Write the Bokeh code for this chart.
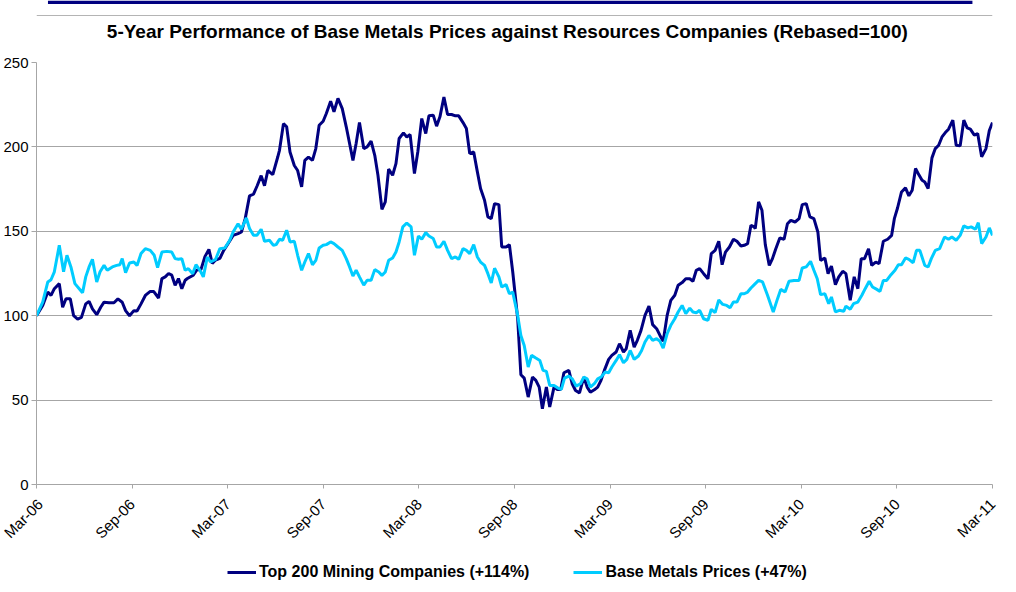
import math
from bokeh.plotting import figure
from bokeh.layouts import column
from bokeh.models import FixedTicker, Legend, LegendItem, Range1d, Label, BoxAnnotation, Span
from bokeh.embed import file_html
from bokeh.resources import INLINE

# Months since Mar-06 and rebased index values
mining_month = [0.0, 0.39, 0.71, 0.91, 1.12, 1.43, 1.64, 1.85, 2.12, 2.33, 2.58, 2.82, 3.09, 3.30, 3.51, 3.78,
                4.03, 4.24, 4.55, 4.86, 5.11, 5.38, 5.59, 5.84, 6.11, 6.31, 6.56, 6.83, 7.14, 7.35, 7.66, 7.87,
                8.08, 8.29, 8.49, 8.70, 8.91, 9.12, 9.33, 9.47, 9.84, 10.05, 10.32, 10.57, 10.82, 11.03, 11.24,
                11.51, 11.75, 12.02, 12.34, 12.65, 12.86, 13.10, 13.37, 13.62, 13.85, 14.10, 14.31, 14.52, 14.83,
                15.14, 15.25, 15.50, 15.70, 15.91, 16.18, 16.39, 16.64, 16.84, 17.07, 17.32, 17.53, 17.74, 17.99,
                18.19, 18.46, 18.67, 18.92, 19.19, 19.44, 19.65, 19.86, 20.06, 20.27, 20.54, 20.75, 21.00, 21.23,
                21.43, 21.68, 21.89, 22.10, 22.35, 22.56, 22.76, 23.03, 23.24, 23.45, 23.72, 23.93, 24.18, 24.43,
                24.63, 24.90, 25.11, 25.32, 25.57, 25.80, 26.05, 26.29, 26.50, 26.77, 26.98, 27.19, 27.44, 27.67,
                27.87, 28.12, 28.33, 28.54, 28.75, 29.02, 29.20, 29.47, 29.68, 29.89, 30.20, 30.40, 30.61, 30.86,
                31.13, 31.34, 31.55, 31.75, 32.00, 32.21, 32.48, 32.69, 32.90, 33.10, 33.41, 33.62, 33.83, 34.08,
                34.35, 34.56, 34.76, 35.01, 35.22, 35.43, 35.64, 35.91, 36.11, 36.38, 36.59, 36.84, 37.01, 37.26,
                37.51, 37.71, 37.94, 38.19, 38.44, 38.67, 38.92, 39.13, 39.33, 39.58, 39.81, 40.06, 40.27, 40.52,
                40.75, 41.00, 41.20, 41.41, 41.62, 41.87, 42.14, 42.35, 42.59, 42.82, 43.03, 43.24, 43.49, 43.74,
                43.96, 44.21, 44.42, 44.63, 44.84, 45.04, 45.11, 45.32, 45.53, 45.74, 45.99, 46.19, 46.40, 46.65,
                46.92, 47.13, 47.34, 47.61, 47.86, 48.06, 48.31, 48.54, 48.79, 49.04, 49.21, 49.48, 49.68, 49.89,
                50.14, 50.35, 50.60, 50.80, 51.07, 51.32, 51.55, 51.76, 51.97, 52.22, 52.42, 52.67, 52.88, 53.15,
                53.42, 53.67, 53.84, 54.04, 54.29, 54.54, 54.75, 54.96, 55.17, 55.37, 55.58, 55.75, 55.96, 56.20,
                56.41, 56.62, 56.83, 57.04, 57.24, 57.51, 57.72, 57.97, 58.20, 58.41, 58.61, 58.86, 59.07, 59.32,
                59.59, 59.80, 60.0]
mining_value = [100, 106, 114, 112, 116, 119, 105, 110, 110, 100, 98, 99, 107, 108.5, 104, 100.6,
                105, 108, 107.7, 107.7, 110, 108, 103, 100, 103, 102.8, 107, 112, 114.4, 114.4, 110.5, 122,
                123, 125, 124, 118, 122, 116, 121, 122, 124, 127, 127.3, 135, 139.3, 131, 133,
                134, 138.7, 142.7, 147.6, 148.6, 149.6, 157.5, 171, 172, 177, 183, 177, 186, 183.6,
                194, 198, 213.8, 211.9, 197, 189, 186, 176.3, 192, 194, 192, 199, 212.8, 215.2,
                219.8, 227, 220.8, 228.7, 222.7, 211.9, 202, 192, 202, 214.4, 199, 200, 203.4, 195,
                183.2, 163, 167.4, 186.8, 183.2, 190.1, 205, 208.3, 205.9, 207.3, 184.2, 197, 216.8, 207.9,
                218.4, 218.8, 212.3, 217.8, 229.6, 219.2, 219.2, 218.4, 218.4, 214.4, 210.9, 196, 197, 185.2,
                175.3, 168.4, 158.5, 157.5, 166.4, 165.8, 140.7, 140.7, 142.1, 125.9, 98.2, 65, 63, 51.8,
                63.6, 61.7, 57.7, 44.9, 57.7, 45.9, 57.7, 56.3, 56.3, 66.2, 67.6, 59.7, 55.7, 54.3,
                63.6, 57.7, 54.7, 56.1, 57.7, 61.7, 67.6, 74.1, 76.5, 78.5, 83.4, 78.5, 80.4, 91.3,
                81.4, 85.4, 91.3, 100.2, 105.7, 94.7, 92.3, 88.3, 84.8, 100.2, 109.1, 112.1, 118, 119.6,
                121.9, 121.9, 120.4, 126.9, 127.9, 124.9, 121.9, 136.8, 138.7, 144.1, 130.2, 137.7, 140.7, 145.3,
                144.1, 141.3, 141.7, 142.7, 153.6, 152.6, 151.6, 167.4, 162.5, 142.1, 129.8, 133.8, 139.7, 146,
                145.3, 154.5, 156.5, 155.5, 157.5, 165.8, 166.4, 158.5, 157.5, 149.6, 132.8, 134.2, 124.9, 129.4,
                118.4, 123, 126.3, 124.9, 109.1, 123, 116, 133.8, 133.8, 139.7, 129.8, 131.8, 130.8, 144.1,
                145.3, 147.6, 157.5, 163.8, 173.3, 175.7, 171, 174.3, 187.2, 183.6, 180.2, 179.2, 175.3, 193.5,
                199, 201, 205.9, 208.5, 210.5, 215.8, 201, 200.6, 215.8, 211.3, 210.5, 207, 207.9, 194.1,
                199, 209.7, 214.4]

metals_month = [0.0, 0.39, 0.71, 0.91, 1.12, 1.43, 1.70, 1.91, 2.16, 2.41, 2.68, 2.89, 3.09, 3.30, 3.51, 3.78,
                3.99, 4.24, 4.44, 4.76, 5.03, 5.23, 5.38, 5.59, 5.84, 6.11, 6.31, 6.56, 6.83, 7.14, 7.39, 7.60,
                7.87, 8.18, 8.49, 8.70, 8.91, 9.12, 9.33, 9.53, 9.80, 10.01, 10.26, 10.47, 10.72, 10.92, 11.24,
                11.51, 11.82, 12.13, 12.34, 12.65, 12.86, 13.17, 13.37, 13.62, 13.83, 14.10, 14.31, 14.62, 14.87,
                15.04, 15.25, 15.45, 15.70, 15.91, 16.18, 16.39, 16.64, 16.84, 17.07, 17.32, 17.53, 17.74, 17.99,
                18.19, 18.46, 18.67, 18.92, 19.19, 19.44, 19.65, 19.86, 20.06, 20.27, 20.54, 20.75, 21.00, 21.23,
                21.48, 21.68, 21.89, 22.10, 22.35, 22.56, 22.76, 22.99, 23.24, 23.51, 23.72, 23.97, 24.18, 24.43,
                24.63, 24.90, 25.11, 25.32, 25.57, 25.80, 26.05, 26.29, 26.50, 26.77, 26.98, 27.19, 27.44, 27.67,
                27.87, 28.12, 28.33, 28.54, 28.75, 29.02, 29.20, 29.47, 29.68, 29.89, 30.20, 30.40, 30.61, 30.86,
                31.07, 31.34, 31.59, 31.79, 32.00, 32.21, 32.48, 32.73, 32.94, 33.14, 33.41, 33.62, 33.87, 34.14,
                34.35, 34.56, 34.76, 35.01, 35.22, 35.43, 35.70, 35.91, 36.11, 36.38, 36.59, 36.84, 37.05, 37.26,
                37.51, 37.78, 37.98, 38.19, 38.44, 38.67, 38.92, 39.13, 39.33, 39.58, 39.81, 40.06, 40.27, 40.52,
                40.75, 41.00, 41.20, 41.41, 41.62, 41.87, 42.14, 42.35, 42.59, 42.82, 43.07, 43.32, 43.53, 43.74,
                43.96, 44.21, 44.42, 44.63, 44.84, 45.05, 45.32, 45.57, 45.88, 46.24, 46.51, 46.71, 46.98, 47.23,
                47.54, 47.86, 48.06, 48.31, 48.58, 48.79, 49.00, 49.21, 49.48, 49.72, 49.89, 50.14, 50.39, 50.66,
                50.80, 51.07, 51.28, 51.55, 51.80, 52.01, 52.26, 52.47, 52.74, 52.94, 53.15, 53.36, 53.63, 53.88,
                54.09, 54.29, 54.54, 54.75, 55.02, 55.23, 55.44, 55.75, 55.96, 56.16, 56.41, 56.68, 56.99, 57.24,
                57.45, 57.72, 57.97, 58.20, 58.45, 58.66, 58.93, 59.11, 59.32, 59.59, 59.80, 60.0]
metals_value = [100, 108, 120, 121.3, 126, 141.7, 126, 135.8, 128.9, 119, 116, 113.6, 123, 128.9, 133.4, 120,
                126, 129.8, 126.9, 128.9, 129.8, 130.2, 133.8, 125.5, 131.2, 131.8, 129.8, 136.8, 139.7, 138.7, 135.8, 128.5,
                137.7, 138.1, 137.7, 133.8, 133.4, 133.8, 126.9, 127.9, 124.9, 130.2, 126.9, 123, 134.8, 131.8, 133.4,
                139.7, 140.1, 144.7, 149.6, 154.5, 151.2, 157.9, 151.6, 147.6, 147.6, 151.2, 144.1, 144.7, 141.7,
                142.1, 145.3, 144.7, 150.6, 143.7, 144.1, 135.8, 126.9, 131.8, 136.8, 130.2, 132.8, 140.1, 141.7,
                142.1, 143.7, 142.7, 140.7, 138.7, 133.8, 128.9, 123.5, 126.9, 123, 118.1, 121, 121, 127.3,
                125.9, 123.9, 125.9, 132.8, 134.2, 137.7, 143.7, 152.6, 154.9, 152.6, 135.8, 147.2, 145.3, 149.2,
                147.2, 145.7, 140.7, 140.7, 144.1, 138.7, 133.8, 134.8, 133.4, 139.7, 138.7, 136.8, 142.1, 134.8,
                131.8, 129.8, 124.9, 119.4, 128.1, 123, 117, 118.4, 113, 114, 100.2, 88.3, 82.4, 69.6,
                76.5, 74.9, 73.5, 67.6, 67, 58.7, 58.7, 57.1, 56.3, 63, 64.2, 62.6, 58.3, 59.7,
                63.6, 62.6, 57.7, 59.7, 62.6, 63.6, 66.6, 66.2, 69.6, 73.5, 76.9, 72.1, 74.1, 79.4,
                74.1, 76.1, 79.4, 84.4, 88.3, 85.4, 86.4, 84.8, 80.8, 89.3, 94.3, 98.2, 102.2, 106.1,
                101.2, 104.5, 102.2, 101.8, 103.2, 98.2, 97.2, 103.8, 101.8, 109.3, 106.7, 106.1, 104.7, 108.1,
                108.1, 113, 113, 114, 116.4, 118.4, 120.9, 120, 112.1, 102.2, 110.1, 115.6, 114, 120.4,
                120.9, 120.9, 128.3, 128.9, 132.2, 126.9, 121.9, 112.5, 113, 107.1, 111.1, 102.2, 103.2, 102.6,
                105.7, 103.8, 107.1, 108.1, 112.1, 116, 120.4, 117, 115.6, 114.4, 120.9, 120.9, 124.3, 126.9,
                130.2, 130.2, 134.2, 133.4, 131.4, 138.7, 138.7, 129.8, 128.9, 133.8, 138.7, 139.7, 146.6, 145.3,
                146.6, 144.7, 147.6, 153.2, 152, 152.6, 151.2, 155.1, 142.7, 146.6, 152, 147.6]

tick_months = [0, 6, 12, 18, 24, 30, 36, 42, 48, 54, 60]
tick_labels = ["Mar-06", "Sep-06", "Mar-07", "Sep-07", "Mar-08", "Sep-08",
               "Mar-09", "Sep-09", "Mar-10", "Sep-10", "Mar-11"]
y_ticks = [0, 50, 100, 150, 200, 250]

title_text = "5-Year Performance of Base Metals Prices against Resources Companies (Rebased=100)"
series_names = ["Top 200 Mining Companies (+114%)", "Base Metals Prices (+47%)"]
series_colors = ["#000080", "#00CCFF"]

FONT = "Liberation Sans"

# ---- header strip: top rule and title ----
hf = figure(width=1000, height=52, output_backend="svg", toolbar_location=None,
            x_axis_type=None, y_axis_type=None,
            x_range=Range1d(0, 1000), y_range=Range1d(0, 52),
            min_border_left=0, min_border_right=0, min_border_top=0, min_border_bottom=0)
hf.grid.visible = False
hf.outline_line_color = None
hf.add_layout(BoxAnnotation(left=12, right=979, bottom=48.5, top=52,
                            fill_color="#000080", fill_alpha=1, line_color=None))
hf.add_layout(Span(location=37, dimension="width", line_color="#B4B4B4", line_width=1))
hf.add_layout(Label(x=492.5, y=21, text=title_text, text_align="center", text_baseline="middle",
                    text_font=FONT, text_font_size="19px", text_font_style="bold",
                    text_color="#000000"))

# ---- main chart ----
p = figure(width=1000, height=507, output_backend="svg", toolbar_location=None,
           x_range=Range1d(0, 60), y_range=Range1d(0, 250),
           min_border_left=29, min_border_right=8, min_border_top=10, min_border_bottom=75)

p.outline_line_color = None
p.xgrid.grid_line_color = None
p.ygrid.grid_line_color = "#A6A6A6"
p.ygrid.grid_line_width = 1

p.yaxis.ticker = FixedTicker(ticks=y_ticks)
p.yaxis.axis_line_color = "#A6A6A6"
p.yaxis.major_tick_line_color = "#A6A6A6"
p.yaxis.major_tick_out = 5
p.yaxis.major_tick_in = 0
p.yaxis.minor_tick_line_color = None
p.yaxis.major_label_standoff = 3
p.yaxis.major_label_text_font = FONT
p.yaxis.major_label_text_font_size = "15px"
p.yaxis.major_label_text_color = "#000000"

p.xaxis.ticker = FixedTicker(ticks=tick_months)
p.xaxis.major_label_overrides = {m: lab for m, lab in zip(tick_months, tick_labels)}
p.xaxis.major_label_orientation = math.pi / 4
p.xaxis.axis_line_color = "#A6A6A6"
p.xaxis.major_tick_line_color = "#A6A6A6"
p.xaxis.major_tick_out = 4
p.xaxis.major_tick_in = 0
p.xaxis.minor_tick_line_color = None
p.xaxis.major_label_standoff = 13
p.xaxis.major_label_text_font = FONT
p.xaxis.major_label_text_font_size = "15px"
p.xaxis.major_label_text_color = "#000000"

r_mining = p.line(mining_month, mining_value, line_color=series_colors[0], line_width=3)
r_metals = p.line(metals_month, metals_value, line_color=series_colors[1], line_width=3)

# ---- legend strip (its lines hold the first point of each series, which lies
# outside this strip's ranges, so only the legend samples show) ----
lp = figure(width=1000, height=25, output_backend="svg", toolbar_location=None,
            x_axis_type=None, y_axis_type=None,
            x_range=Range1d(0, 1), y_range=Range1d(0, 1),
            min_border_left=0, min_border_right=0, min_border_top=0, min_border_bottom=0)
lp.grid.visible = False
lp.outline_line_color = None
lg_mining = lp.line(mining_month[:1], mining_value[:1], line_color=series_colors[0], line_width=3)
lg_metals = lp.line(metals_month[:1], metals_value[:1], line_color=series_colors[1], line_width=3)

legend = Legend(items=[LegendItem(label=series_names[0], renderers=[lg_mining]),
                       LegendItem(label=series_names[1], renderers=[lg_metals])],
                location=(189, 1), orientation="horizontal", spacing=44,
                glyph_width=29, glyph_height=16, label_standoff=3,
                padding=2, margin=0, label_text_font=FONT, label_text_font_size="16px",
                label_text_font_style="bold", label_text_color="#000000",
                background_fill_alpha=0, border_line_alpha=0)
lp.add_layout(legend, "center")

open("out.html", "w").write(file_html(column(hf, p, lp, spacing=0), INLINE))
